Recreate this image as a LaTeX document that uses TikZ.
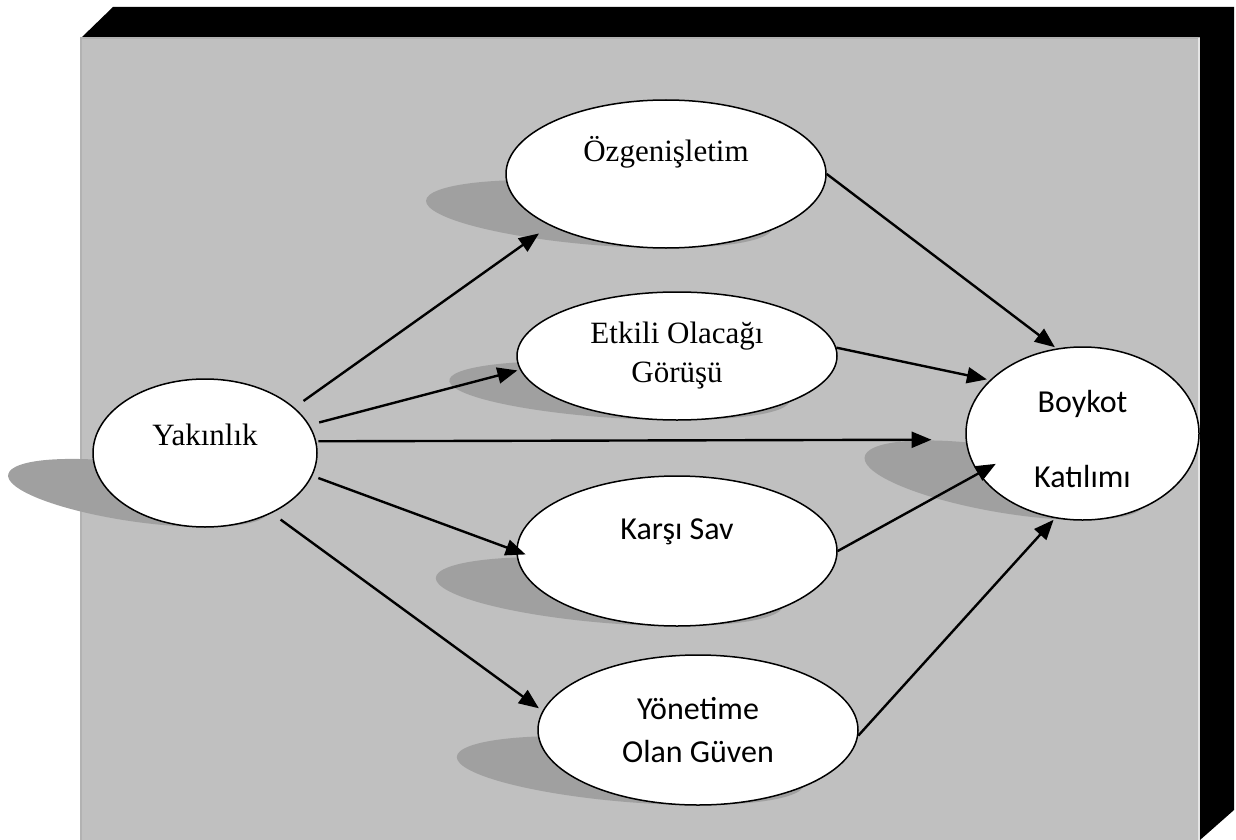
\documentclass[tikz,border=0pt]{standalone}
\usepackage{fontspec}
\setmainfont{Liberation Serif}
\newfontfamily\calibrifont{Carlito}
\usetikzlibrary{shapes.geometric, arrows.meta}

\definecolor{panelgray}{RGB}{192,192,192}
\definecolor{shadowgray}{RGB}{160,160,160}

\begin{document}
\begin{tikzpicture}[%
		x=0.5pt, y=-0.5pt,
		construct/.style={
			ellipse,
			draw,
			line width=0.75pt,
			fill=white,
			inner sep=0pt,
			align=center
		},
		serifconstruct/.style={
			construct,
			font=\fontsize{15.5pt}{19.5pt}\selectfont
		},
		sansconstruct/.style={
			construct,
			font=\calibrifont\fontsize{16pt}{19.5pt}\selectfont
		},
		castshadow/.style={
			fill=shadowgray,
			cm={1,0,-0.9,0.46,(0,0)}
		},
		patharrow/.style={
			line width=1.2pt,
			-{Triangle[length=10pt,width=8pt]}
		}]

		\useasboundingbox (0,0) rectangle (1236,840);

		% PANEL

		\fill[black] (81,38) -- (113,7) -- (1234,7) -- (1234,810) -- (1200,840) -- (1200,38) -- cycle;
		\fill[panelgray] (81,38) rectangle (1200,840);
		\draw[gray!60, line width=0.6pt] (81,840) -- (81,38) -- (1200,38);
		\draw[gray!20, line width=0.6pt] (1199,38) -- (1199,840);

		% SHADOWS

		\fill[shift={(205,527)}, castshadow] (0pt,37pt) ellipse [x radius=56pt, y radius=37pt];
		\fill[shift={(666,248)}, castshadow] (0pt,37pt) ellipse [x radius=80pt, y radius=37pt];
		\fill[shift={(677,420)}, castshadow] (0pt,32pt) ellipse [x radius=80pt, y radius=32pt];
		\fill[shift={(1082.5,520)}, castshadow] (0pt,43.25pt) ellipse [x radius=58.25pt, y radius=43.25pt];
		\fill[shift={(677,626)}, castshadow] (0pt,37.5pt) ellipse [x radius=80pt, y radius=37.5pt];
		\fill[shift={(698,805)}, castshadow] (0pt,37.5pt) ellipse [x radius=80pt, y radius=37.5pt];

		% CONSTRUCTS

		\node[serifconstruct, minimum width=112pt, minimum height=74pt, text height=11pt, text depth=19pt] (yak) at (205,453) {Yakınlık};
		\node[serifconstruct, minimum width=160pt, minimum height=74pt, text height=11pt, text depth=23pt] (ozg) at (666,174) {Özgenişletim};
		\node[serifconstruct, minimum width=160pt, minimum height=64pt] (etk) at (677,356) {Etkili Olacağı\\Görüşü};
		\node[sansconstruct, minimum width=116.5pt, minimum height=86.5pt] (boy) at (1082.5,433.5) {\rule{0pt}{17pt}Boykot\\[18pt]Katılımı};
		\node[sansconstruct, minimum width=160pt, minimum height=75pt, text height=11pt, text depth=23pt] (kar) at (677,551) {Karşı Sav};
		\node[sansconstruct, minimum width=160pt, minimum height=75pt] (yon) at (698,730) {Yönetime\\[2pt]Olan Güven};

		% PATHS

		\draw[patharrow, shorten <=5.6pt, shorten >=6.7pt] (yak.27.5) -- (ozg.204.2);
		\draw[patharrow, shorten <=5pt, shorten >=1.3pt] (yak.15.3) -- (etk.185);
		\draw[patharrow, shorten <=1pt, shorten >=17pt] (yak.6.6) -- (boy.183.3);
		\draw[patharrow, shorten <=3.2pt, shorten >=-5pt] (yak.-12) -- (kar.180.8);
		\draw[patharrow, shorten <=5.4pt, shorten >=2.2pt] (yak.-42.2) -- (yon.173.6);

		\draw[patharrow, shorten >=1pt] (ozg.0) -- (boy.107.3);
		\draw[patharrow, shorten >=1.5pt] (etk.3.6) -- (boy.150.7);
		\draw[patharrow, shorten >=-10pt] (kar.0) -- (boy.201.6);
		\draw[patharrow, shorten >=1pt] (yon.-2.9) -- (boy.252.4);
\end{tikzpicture}
\end{document}
